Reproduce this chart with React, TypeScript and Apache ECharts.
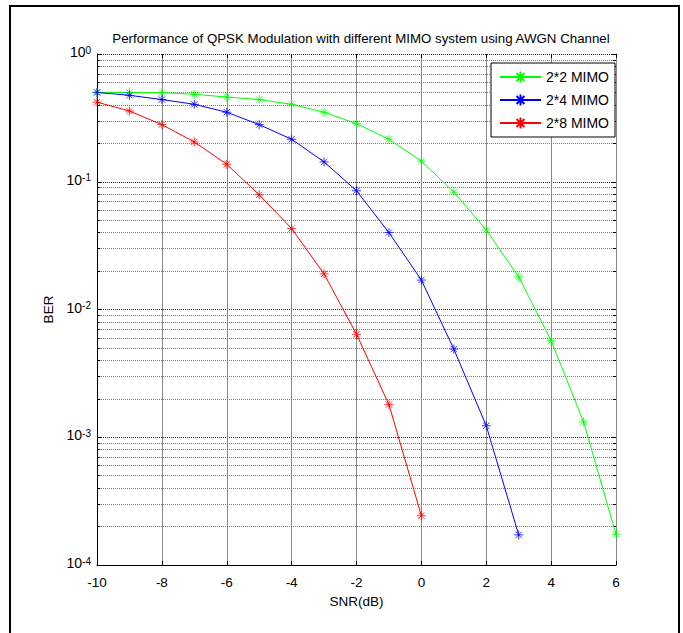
import React, { useEffect, useRef } from "react";
import * as echarts from "echarts";

const snr = [-10, -9, -8, -7, -6, -5, -4, -3, -2, -1, 0, 1, 2, 3, 4, 5, 6];
const ber2x2 = [0.5, 0.5, 0.498, 0.484, 0.46, 0.44, 0.404, 0.35, 0.285, 0.215, 0.145, 0.083, 0.042, 0.018, 0.0057, 0.00132, 0.000174];
const ber2x4 = [0.5, 0.475, 0.44, 0.404, 0.35, 0.28, 0.215, 0.143, 0.085, 0.04, 0.017, 0.0049, 0.00123, 0.000172];
const ber2x8 = [0.42, 0.358, 0.28, 0.205, 0.137, 0.079, 0.043, 0.019, 0.0064, 0.0018, 0.000243];

const seriesNames = ["2*2 MIMO", "2*4 MIMO", "2*8 MIMO"];
const seriesColors = ["#00ff00", "#0000ff", "#ff0000"];
const seriesValues = [ber2x2, ber2x4, ber2x8];

const decades = [1e-4, 1e-3, 1e-2, 1e-1];
const minorMultipliers = [2, 3, 4, 5, 6, 7, 8, 9];

const title = "Performance of QPSK Modulation with different MIMO system using AWGN Channel";
const xName = "SNR(dB)";
const yName = "BER";

const X_MIN = -10;
const X_MAX = 6;

const ASTERISK = "path://M5 0L5 10M0 5L10 5M1.5 1.5L8.5 8.5M1.5 8.5L8.5 1.5";

export default function App() {
  const ref = useRef<HTMLDivElement>(null);
  useEffect(() => {
    if (!ref.current) return;
    const chart = echarts.init(ref.current, undefined, { renderer: "svg" });
    const minorVals: number[] = [];
    decades.forEach((d) => minorMultipliers.forEach((m) => minorVals.push(m * d)));

    const minorGrid = minorVals.map((v) => [{ coord: [X_MIN, v] }, { coord: [X_MAX, v] }]);
    const minorTicks: any[] = [];
    minorVals.forEach((v) => {
      minorTicks.push([{ coord: [X_MIN, v] }, { coord: [X_MIN + 0.1, v] }]);
      minorTicks.push([{ coord: [X_MAX - 0.1, v] }, { coord: [X_MAX, v] }]);
    });

    const font = "Liberation Sans, Arial, sans-serif";

    const dataSeries = seriesNames.map((name, i) => ({
      name,
      type: "line",
      z: 5,
      data: seriesValues[i].map((v, j) => [snr[j], v]),
      symbol: ASTERISK,
      symbolSize: 9,
      showSymbol: true,
      lineStyle: { color: seriesColors[i], width: 1 },
      itemStyle: { color: seriesColors[i], borderColor: seriesColors[i], borderWidth: 0.8 },
    }));

    chart.setOption({
      animation: false,
      backgroundColor: "#fff",
      title: {
        text: title,
        left: 356,
        top: 27,
        textAlign: "center",
        textStyle: { fontFamily: font, fontSize: 13.3, fontWeight: "normal", color: "#000" },
      },
      legend: {
        data: seriesNames,
        orient: "vertical",
        left: 491,
        top: 63,
        padding: [7, 6, 7, 8],
        itemGap: 9,
        itemWidth: 41,
        itemHeight: 14,
        backgroundColor: "#fff",
        borderColor: "#000",
        borderWidth: 1,
        textStyle: { fontFamily: font, fontSize: 14, color: "#000" },
        z: 10,
      },
      grid: { left: 97, right: 67, top: 54, bottom: 68, containLabel: false },
      graphic: [
        {
          type: "rect",
          silent: true,
          shape: { x: 10, y: 6, width: 669, height: 640 },
          style: { fill: "none", stroke: "#000", lineWidth: 2 },
        },
      ],
      xAxis: [
        {
          type: "value",
          min: X_MIN,
          max: X_MAX,
          interval: 2,
          position: "bottom",
          name: xName,
          nameLocation: "middle",
          nameGap: 29,
          nameTextStyle: { fontFamily: font, fontSize: 13.5, color: "#000" },
          axisLine: { show: true, onZero: false, lineStyle: { color: "#000", width: 1 } },
          axisTick: { show: true, inside: true, length: 4, lineStyle: { color: "#000" } },
          axisLabel: { fontFamily: font, fontSize: 13.5, color: "#000", margin: 10 },
          splitLine: { show: true, lineStyle: { color: "#888", width: 1 } },
        },
        {
          type: "value",
          min: X_MIN,
          max: X_MAX,
          interval: 2,
          position: "top",
          axisLine: { show: false },
          axisTick: { show: true, inside: true, length: 4, lineStyle: { color: "#000" } },
          axisLabel: { show: false },
          splitLine: { show: false },
        },
      ],
      yAxis: [
        {
          type: "log",
          logBase: 10,
          min: 1e-4,
          max: 1,
          position: "left",
          name: yName,
          nameLocation: "middle",
          nameGap: 27,
          nameTextStyle: { fontFamily: font, fontSize: 13.5, color: "#000" },
          axisLine: { show: true, onZero: false, lineStyle: { color: "#000", width: 1 } },
          axisTick: { show: true, inside: true, length: 5, lineStyle: { color: "#000" } },
          axisLabel: {
            margin: 6,
            padding: [0, 0, 4, 0],
            formatter: (v: number) => `{b|10}{s|${Math.round(Math.log10(v))}}`,
            rich: {
              b: { fontFamily: font, fontSize: 14, color: "#000", lineHeight: 14, padding: [7, 0, 0, 0], verticalAlign: "bottom" },
              s: { fontFamily: font, fontSize: 10, color: "#000", lineHeight: 10, verticalAlign: "top" },
            },
          },
          splitLine: { show: true, lineStyle: { color: "#222", width: 1, type: [1, 1] } },
        },
        {
          type: "log",
          logBase: 10,
          min: 1e-4,
          max: 1,
          position: "right",
          axisLine: { show: true, onZero: false, lineStyle: { color: "#888", width: 1 } },
          axisTick: { show: true, inside: true, length: 5, lineStyle: { color: "#000" } },
          axisLabel: { show: false },
          splitLine: { show: false },
        },
      ],
      series: [
        {
          type: "line",
          name: "__minor",
          data: [],
          z: 1,
          silent: true,
          markLine: {
            silent: true,
            symbol: "none",
            label: { show: false },
            animation: false,
            lineStyle: { color: "#777", width: 1, type: [1, 1] },
            data: minorGrid,
          },
        },
        {
          type: "line",
          name: "__ticks",
          data: [],
          z: 2,
          silent: true,
          markLine: {
            silent: true,
            symbol: "none",
            label: { show: false },
            animation: false,
            lineStyle: { color: "#000", width: 1, type: "solid" },
            data: minorTicks,
          },
        },
        ...dataSeries,
      ],
    });
    return () => chart.dispose();
  }, []);
  return (
    <div
      ref={ref}
      style={{ position: "fixed", left: 0, top: 0, width: 683, height: 633, background: "#fff" }}
    />
  );
}
